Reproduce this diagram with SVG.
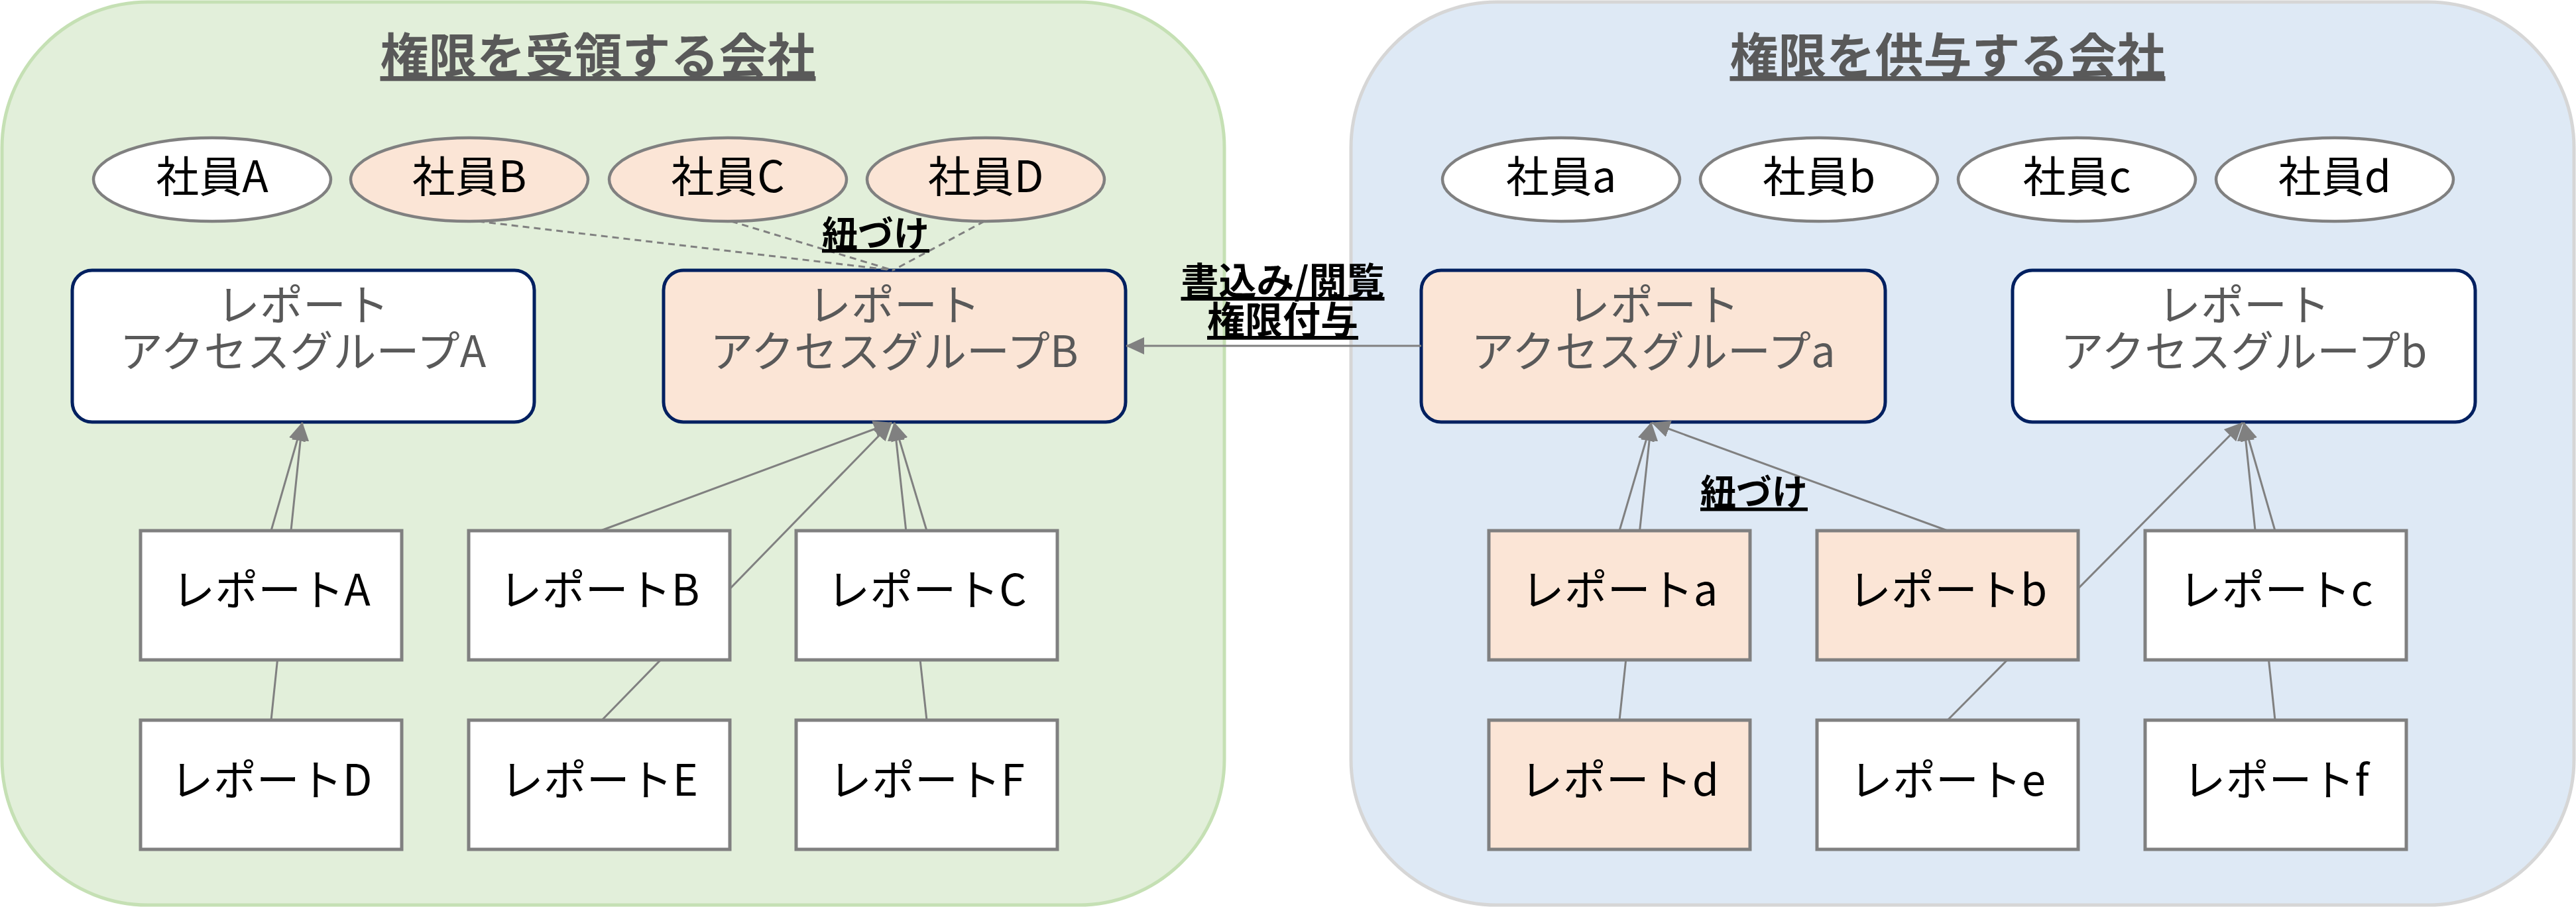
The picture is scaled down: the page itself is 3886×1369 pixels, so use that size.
<svg xmlns="http://www.w3.org/2000/svg" width="3886" height="1369" viewBox="0 0 3886 1369">
<defs>
<style>
.cont-l{fill:#e2efda;stroke:#c5e0b4;stroke-width:5}
.cont-r{fill:#dee9f5;stroke:#d6d6d6;stroke-width:5}
text{font-family:"Noto Sans CJK JP","Noto Sans",sans-serif;text-anchor:middle}
.title{font-size:73px;font-weight:bold;fill:#595959;text-decoration:underline}
.emp{stroke:#808080;stroke-width:4.5}
.grp{stroke:#002060;stroke-width:5}
.rep{stroke:#808080;stroke-width:5}
.w{fill:#ffffff}
.p{fill:#fbe5d6}
.t{font-size:65px;fill:#000000}
.tg{font-size:65px;fill:#595959}
.lbl{font-size:54px;font-weight:bold;fill:#000000;text-decoration:underline}
.lbl2{font-size:57px}
.edge{stroke:#808080;stroke-width:3;fill:none}
.arr{marker-end:url(#ah)}
.dash{stroke-dasharray:10 7}
</style>
<marker id="ah" markerUnits="userSpaceOnUse" markerWidth="28" markerHeight="26" viewBox="0 0 28 26" refX="27" refY="13" orient="auto">
<path d="M0,0 L28,13 L0,26 z" fill="#808080"/>
</marker>
</defs>

<g id="company-receive">
<rect class="cont-l" x="3" y="3" width="1844" height="1363" rx="220" ry="220"/>
<text class="title" x="902" y="111">権限を受領する会社</text>
</g>
<g id="company-grant">
<rect class="cont-r" x="2038" y="3" width="1845" height="1363" rx="220" ry="220"/>
<text class="title" x="2938" y="111">権限を供与する会社</text>
</g>

<g id="group-A">
<rect class="grp w" x="109" y="408" width="697" height="229" rx="30"/>
<text class="tg" x="457" y="484"><tspan x="457">レポート</tspan><tspan x="457" dy="70">アクセスグループA</tspan></text>
</g>
<g id="group-B">
<rect class="grp p" x="1001" y="408" width="697" height="229" rx="30"/>
<text class="tg" x="1349" y="484"><tspan x="1349">レポート</tspan><tspan x="1349" dy="70">アクセスグループB</tspan></text>
</g>
<g id="group-a">
<rect class="grp p" x="2144" y="408" width="700" height="229" rx="30"/>
<text class="tg" x="2494" y="484"><tspan x="2494">レポート</tspan><tspan x="2494" dy="70">アクセスグループa</tspan></text>
</g>
<g id="group-b">
<rect class="grp w" x="3036" y="408" width="698" height="229" rx="30"/>
<text class="tg" x="3385" y="484"><tspan x="3385">レポート</tspan><tspan x="3385" dy="70">アクセスグループb</tspan></text>
</g>

<g id="emp-A"><ellipse class="emp w" cx="320" cy="271" rx="179" ry="63"/><text class="t" x="320" y="290">社員A</text></g>
<g id="emp-B"><ellipse class="emp p" cx="708" cy="271" rx="179" ry="63"/><text class="t" x="708" y="290">社員B</text></g>
<g id="emp-C"><ellipse class="emp p" cx="1098" cy="271" rx="179" ry="63"/><text class="t" x="1098" y="290">社員C</text></g>
<g id="emp-D"><ellipse class="emp p" cx="1487" cy="271" rx="179" ry="63"/><text class="t" x="1487" y="290">社員D</text></g>
<g id="emp-a"><ellipse class="emp w" cx="2355" cy="271" rx="179" ry="63"/><text class="t" x="2355" y="290">社員a</text></g>
<g id="emp-b"><ellipse class="emp w" cx="2744" cy="271" rx="179" ry="63"/><text class="t" x="2744" y="290">社員b</text></g>
<g id="emp-c"><ellipse class="emp w" cx="3133" cy="271" rx="179" ry="63"/><text class="t" x="3133" y="290">社員c</text></g>
<g id="emp-d"><ellipse class="emp w" cx="3522" cy="271" rx="179" ry="63"/><text class="t" x="3522" y="290">社員d</text></g>

<g id="connectors">
<line class="edge dash" x1="721" y1="334" x2="1347" y2="408"/>
<line class="edge dash" x1="1103" y1="334" x2="1347" y2="408"/>
<line class="edge dash" x1="1485" y1="334" x2="1347" y2="408"/>
<text class="lbl" x="1321" y="373">紐づけ</text>

<line class="edge arr" x1="409" y1="801" x2="456" y2="638"/>
<line class="edge arr" x1="409" y1="1087" x2="456" y2="638"/>
<line class="edge arr" x1="906" y1="801" x2="1345" y2="638"/>
<line class="edge arr" x1="908" y1="1087" x2="1345" y2="638"/>
<line class="edge arr" x1="1398" y1="801" x2="1349" y2="638"/>
<line class="edge arr" x1="1398" y1="1087" x2="1349" y2="638"/>

<line class="edge arr" x1="2443" y1="801" x2="2491" y2="638"/>
<line class="edge arr" x1="2443" y1="1087" x2="2491" y2="638"/>
<line class="edge arr" x1="2938" y1="801" x2="2492" y2="638"/>
<line class="edge arr" x1="2938" y1="1087" x2="3383" y2="638"/>
<line class="edge arr" x1="3432" y1="801" x2="3385" y2="638"/>
<line class="edge arr" x1="3432" y1="1087" x2="3385" y2="638"/>
<text class="lbl" x="2646" y="763">紐づけ</text>

<line class="edge arr" x1="2144" y1="522" x2="1699" y2="522"/>
<text class="lbl lbl2" x="1935" y="445"><tspan x="1935">書込み/閲覧</tspan><tspan x="1935" dy="59">権限付与</tspan></text>
</g>

<g id="report-A"><rect class="rep w" x="212" y="801" width="394" height="195"/><text class="t" x="409" y="914">レポートA</text></g>
<g id="report-B"><rect class="rep w" x="707" y="801" width="394" height="195"/><text class="t" x="904" y="914">レポートB</text></g>
<g id="report-C"><rect class="rep w" x="1201" y="801" width="394" height="195"/><text class="t" x="1398" y="914">レポートC</text></g>
<g id="report-D"><rect class="rep w" x="212" y="1087" width="394" height="195"/><text class="t" x="409" y="1201">レポートD</text></g>
<g id="report-E"><rect class="rep w" x="707" y="1087" width="394" height="195"/><text class="t" x="904" y="1201">レポートE</text></g>
<g id="report-F"><rect class="rep w" x="1201" y="1087" width="394" height="195"/><text class="t" x="1398" y="1201">レポートF</text></g>

<g id="report-a"><rect class="rep p" x="2246" y="801" width="394" height="195"/><text class="t" x="2443" y="914">レポートa</text></g>
<g id="report-b"><rect class="rep p" x="2741" y="801" width="394" height="195"/><text class="t" x="2938" y="914">レポートb</text></g>
<g id="report-c"><rect class="rep w" x="3236" y="801" width="394" height="195"/><text class="t" x="3433" y="914">レポートc</text></g>
<g id="report-d"><rect class="rep p" x="2246" y="1087" width="394" height="195"/><text class="t" x="2443" y="1201">レポートd</text></g>
<g id="report-e"><rect class="rep w" x="2741" y="1087" width="394" height="195"/><text class="t" x="2938" y="1201">レポートe</text></g>
<g id="report-f"><rect class="rep w" x="3236" y="1087" width="394" height="195"/><text class="t" x="3433" y="1201">レポートf</text></g>
</svg>
